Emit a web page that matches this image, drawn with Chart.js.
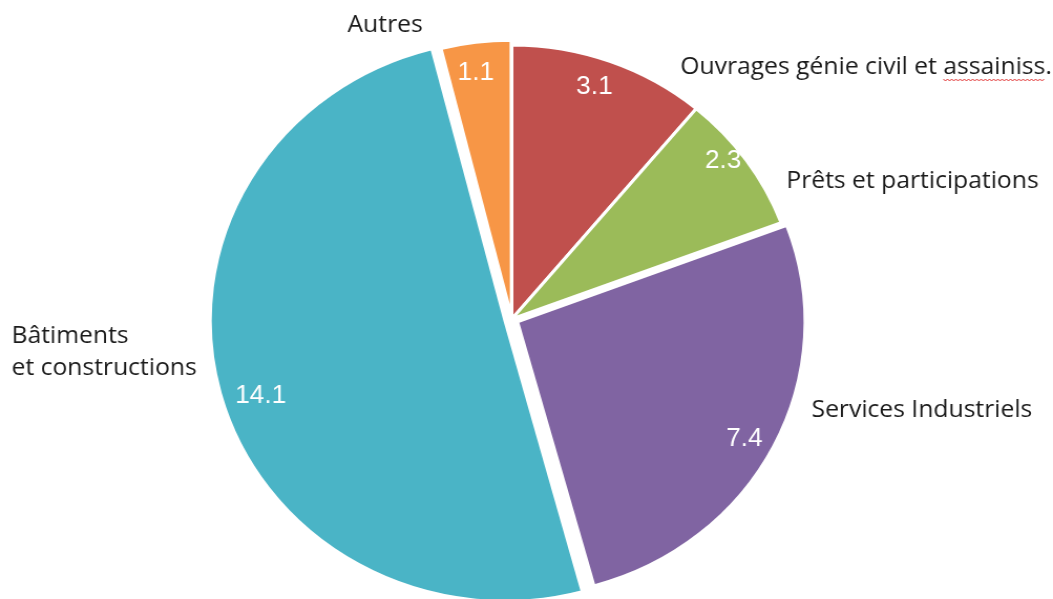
<!DOCTYPE html>
<html>
<head>
<meta charset="utf-8">
<script src="https://cdn.jsdelivr.net/npm/chart.js@4/dist/chart.umd.min.js"></script>
<style>
    body { margin: 0; background: #fff; }
    /* the reference picture is a little wider than tall, so the canvas is stretched */
    #pie { display: block; width: 1053px !important; height: 599px !important; }
</style>
</head>
<body>
<canvas id="pie" width="1003" height="599"></canvas>
<script>
// data, clockwise from 12 o'clock
const categories = [
    'Ouvrages génie civil et assainiss.',
    'Prêts et participations',
    'Services Industriels',
    ['Bâtiments', 'et constructions'],
    'Autres'
];
const values = [3.1, 2.3, 7.4, 14.1, 1.1];
const colors = ['#C0504D', '#9BBB59', '#8064A2', '#4AB4C6', '#F79646'];
const explode = [0, 0, 24, 27, 11];

// where the category names sit (left x, baseline y), canvas units
const namePos = [
    [648, 74],
    [749, 188],
    [773, 417],
    [11, 343],
    [331, 32]
];
// value labels: distance from the slice centre, and a small turn off the mid angle (deg)
const valueDist = [245, 256, 246, 238, 243];
const valueTurn = [-1.2, -2.8, 1.5, -3.3, -0.9];

const labelsPlugin = {
    id: 'pieLabels',
    afterDatasetsDraw(chart) {
        const ctx = chart.ctx;
        const meta = chart.getDatasetMeta(0);
        ctx.save();

        meta.data.forEach((arc, i) => {
            const p = arc.getProps(['x', 'y', 'startAngle', 'endAngle', 'circumference']);
            const mid = (p.startAngle + p.endAngle) / 2;
            // same shift chart.js applies to an exploded slice
            const off = (arc.options.offset || 0) / 4;
            const fix = 1 - Math.sin(Math.min(Math.PI, p.circumference || 0));
            const shift = off * (1 + fix);
            const cx = p.x + Math.cos(mid) * shift;
            const cy = p.y + Math.sin(mid) * shift;
            const a = mid + valueTurn[i] * Math.PI / 180;

            ctx.font = '25px "Liberation Sans", Arial, sans-serif';
            ctx.fillStyle = '#fff';
            ctx.textAlign = 'center';
            ctx.textBaseline = 'middle';
            ctx.fillText(values[i].toFixed(1), cx + Math.cos(a) * valueDist[i], cy + Math.sin(a) * valueDist[i]);
        });

        ctx.font = '23.5px "Open Sans", sans-serif';
        ctx.fillStyle = '#1a1a1a';
        ctx.textAlign = 'left';
        ctx.textBaseline = 'alphabetic';
        categories.forEach((name, i) => {
            const [x, y] = namePos[i];
            const lines = Array.isArray(name) ? name : [name];
            lines.forEach((line, k) => ctx.fillText(line, x, y + k * 32));
        });

        // red spell-check squiggle under "assainiss"
        const pre = ctx.measureText('Ouvrages génie civil et ').width;
        const word = ctx.measureText('assainiss').width;
        const sx = namePos[0][0] + pre, sy = namePos[0][1] + 5;
        ctx.strokeStyle = '#e03030';
        ctx.lineWidth = 1;
        ctx.beginPath();
        for (let x = 0; x <= word; x += 2) {
            const y = sy + ((x / 2) % 2 === 0 ? 0 : 2);
            if (x === 0) ctx.moveTo(sx + x, y); else ctx.lineTo(sx + x, y);
        }
        ctx.stroke();

        ctx.restore();
    }
};

new Chart(document.getElementById('pie'), {
    type: 'pie',
    data: {
        labels: categories,
        datasets: [{
            data: values,
            backgroundColor: colors,
            borderColor: '#fff',
            borderWidth: 3,
            offset: explode,
            hoverOffset: 0
        }]
    },
    options: {
        responsive: false,
        animation: false,
        radius: 274,
        layout: { padding: { left: 0, right: 28, top: 39, bottom: 0 } },
        plugins: {
            legend: { display: false },
            tooltip: { enabled: false }
        }
    },
    plugins: [labelsPlugin]
});
</script>
</body>
</html>
